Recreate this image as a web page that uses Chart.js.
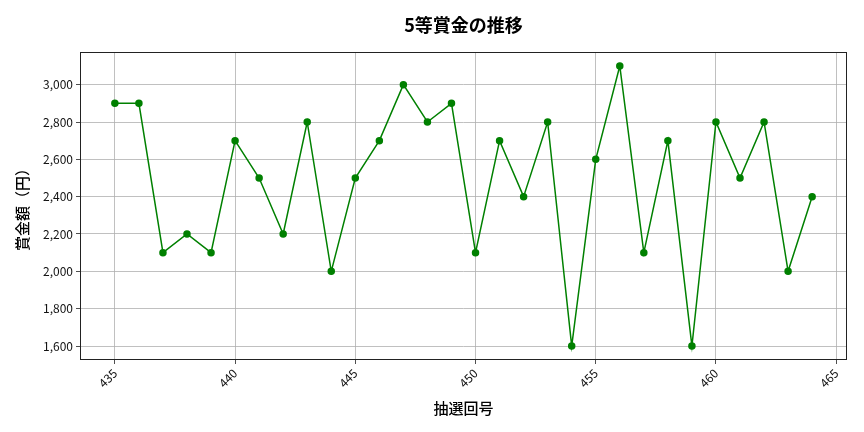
<!DOCTYPE html>
<html>
<head>
<meta charset="utf-8">
<script src="https://cdn.jsdelivr.net/npm/chart.js@4.4.0/dist/chart.umd.min.js"></script>
<style>
html,body{margin:0;padding:0;background:#fff;}
#wrap{width:864px;height:432px;position:relative;}
</style>
</head>
<body>
<div id="wrap"><canvas id="c" width="864" height="432"></canvas></div>
<script>
const drawNumbers = [435,436,437,438,439,440,441,442,443,444,445,446,447,448,449,450,451,452,453,454,455,456,457,458,459,460,461,462,463,464];
const prizeValues = [2900,2900,2100,2200,2100,2700,2500,2200,2800,2000,2500,2700,3000,2800,2900,2100,2700,2400,2800,1600,2600,3100,2100,2700,1600,2800,2500,2800,2000,2400];
const xTicks = [435,440,445,450,455,460,465];
const yTicks = [1600,1800,2000,2200,2400,2600,2800,3000];
const titleText = '5等賞金の推移';
const xTitle = '抽選回号';
const yTitle = '賞金額（円）';

const FONT = "'Noto Sans CJK JP','Noto Sans',sans-serif";

const frame = {
  id:'frame',
  afterDraw(chart){
    const {ctx, chartArea:a} = chart;
    ctx.save();
    ctx.strokeStyle = '#222';
    ctx.lineWidth = 1;
    ctx.strokeRect(a.left+0.5, a.top+0.5, a.right-a.left-1, a.bottom-a.top-1);
    ctx.fillStyle = '#000';
    ctx.font = "bold 18px " + FONT;
    ctx.textAlign = 'center';
    ctx.textBaseline = 'middle';
    ctx.fillText(titleText, (a.left+a.right)/2, 25);
    ctx.restore();
  }
};

new Chart(document.getElementById('c'), {
  type:'line',
  data:{
    datasets:[{
      data: drawNumbers.map((x,i)=>({x:x, y:prizeValues[i]})),
      borderColor:'#008000',
      backgroundColor:'#008000',
      borderWidth:1.5,
      pointRadius:3,
      pointHoverRadius:3,
      tension:0
    }]
  },
  options:{
    responsive:false,
    animation:false,
    devicePixelRatio:1,
    layout:{padding:{top:52,right:17,left:0,bottom:0}},
    plugins:{legend:{display:false},tooltip:{enabled:false},title:{display:false}},
    scales:{
      x:{
        type:'linear',
        min:433.55, max:465.45,
        afterBuildTicks(s){ s.ticks = xTicks.map(v=>({value:v})); },
        afterFit(s){ s.height = 72; },
        ticks:{color:'#111', font:{family:FONT,size:12}, minRotation:45, maxRotation:45, padding:2},
        grid:{color:'#b0b0b0', lineWidth:0.8, tickColor:'#222', tickLength:4, drawTicks:true},
        border:{display:false},
        title:{display:true, text:xTitle, color:'#000', font:{family:FONT,size:15,weight:'500'}, padding:{top:4,bottom:15}}
      },
      y:{
        min:1525, max:3175,
        afterBuildTicks(s){ s.ticks = yTicks.map(v=>({value:v})); },
        afterFit(s){ s.width = 80; },
        ticks:{color:'#111', font:{family:FONT,size:12}, padding:3, callback:v=>v.toLocaleString('en-US')},
        grid:{color:'#b0b0b0', lineWidth:0.8, tickColor:'#222', tickLength:4, drawTicks:true},
        border:{display:false},
        title:{display:true, text:yTitle, color:'#000', font:{family:FONT,size:15,weight:'500'}, padding:{top:13,bottom:4}}
      }
    }
  },
  plugins:[frame]
});
</script>
</body>
</html>
